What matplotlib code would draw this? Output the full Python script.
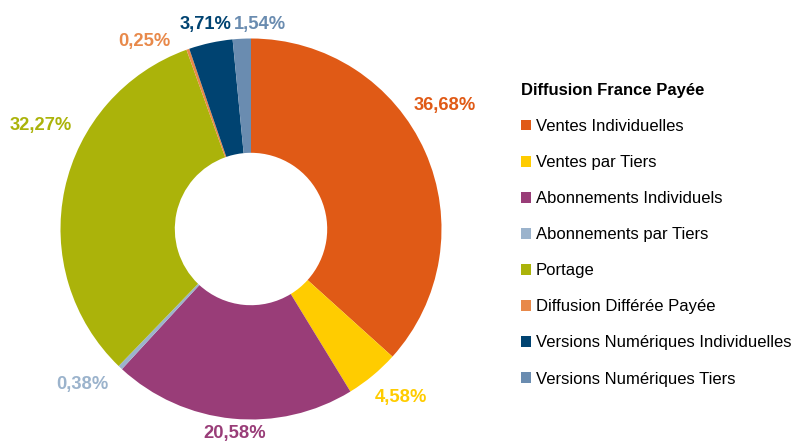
import matplotlib
matplotlib.use("Agg")
import matplotlib.pyplot as plt
from matplotlib.patches import Patch

plt.rcParams["font.family"] = ["Liberation Sans", "DejaVu Sans"]

categories = ["Ventes Individuelles", "Ventes par Tiers", "Abonnements Individuels",
              "Abonnements par Tiers", "Portage", "Diffusion Différée Payée",
              "Versions Numériques Individuelles", "Versions Numériques Tiers"]
shares = [36.68, 4.58, 20.58, 0.38, 32.27, 0.25, 3.71, 1.54]
colors = ["#E05A16", "#FFCC00", "#993D78", "#9BB3CC", "#ABB30A", "#E8894A", "#004371", "#6A8CB0"]
legend_title = "Diffusion France Payée"

# label positions, in units of the outer radius
label_xy = [(1.018, 0.646), (0.787, -0.882), (-0.084, -1.076), (-0.887, -0.814),
            (-1.102, 0.541), (-0.562, 0.982), (-0.236, 1.071), (0.047, 1.071)]

W, H = 801, 444
R = 190.5           # outer radius, px
CX, CY = 251, 229   # donut centre, px from top-left
LIM = 1.15

fig = plt.figure(figsize=(W / 100, H / 100), dpi=100)
half = LIM * R
ax = fig.add_axes([(CX - half) / W, (H - CY - half) / H, 2 * half / W, 2 * half / H])
ax.pie(shares, colors=colors, startangle=90, counterclock=False,
       wedgeprops=dict(width=0.6, linewidth=0))
ax.set_xlim(-LIM, LIM)
ax.set_ylim(-LIM, LIM)
ax.set_aspect("equal")
ax.axis("off")

for v, c, (x, y) in zip(shares, colors, label_xy):
    ax.text(x, y, f"{v:.2f}%".replace(".", ","), color=c, fontsize=13.2,
            fontweight="bold", ha="center", va="center")

handles = [Patch(facecolor=c, edgecolor="none") for c in colors]
leg = fig.legend(handles, categories, title=legend_title, loc="upper left",
                 bbox_to_anchor=(506 / W, 1 - 68 / H), frameon=False,
                 fontsize=11.95, handlelength=0.6, handleheight=0.6,
                 handletextpad=0.3, labelspacing=1.27, alignment="left",
                 title_fontproperties=dict(size=11.95, weight="bold"))

fig.savefig("out.png", dpi=100)
